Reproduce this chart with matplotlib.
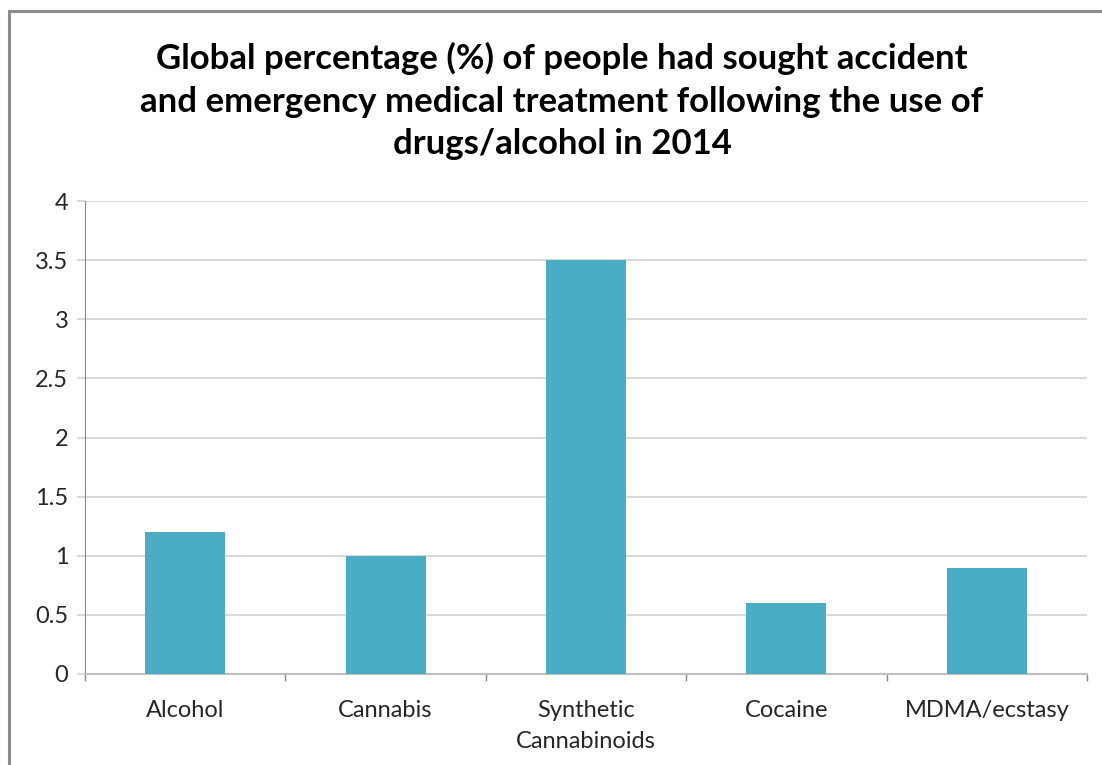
import matplotlib.pyplot as plt
from matplotlib.patches import Rectangle

categories = ['Alcohol', 'Cannabis', 'Synthetic\nCannabinoids', 'Cocaine', 'MDMA/ecstasy']
values = [1.2, 1.0, 3.5, 0.6, 0.9]
yticks = [0, 0.5, 1, 1.5, 2, 2.5, 3, 3.5, 4]
ytick_labels = ['0', '0.5', '1', '1.5', '2', '2.5', '3', '3.5', '4']
title = ('Global percentage (%) of people had sought accident\n'
         'and emergency medical treatment following the use of\n'
         'drugs/alcohol in 2014')

plt.rcParams['font.family'] = ['Lato', 'DejaVu Sans']

fig = plt.figure(figsize=(11.02, 7.65), dpi=100)
fig.patch.set_facecolor('white')

# outer chart frame (right and bottom edges fall outside the image)
fig.patches.append(Rectangle((9 / 1102, -0.05), 1.2, 1 - 11 / 765 + 0.05,
                             transform=fig.transFigure, fill=False,
                             edgecolor='#8c8c8c', linewidth=2.2))

ax = fig.add_axes([85 / 1102, 1 - 674 / 765, (1087 - 85) / 1102, (674 - 201) / 765])
x = range(len(categories))
ax.bar(x, values, width=0.4, color='#4BACC6', zorder=3)

ax.set_xlim(-0.5, len(categories) - 0.5)
ax.set_ylim(0, 4)
ax.set_yticks(yticks)
ax.set_yticklabels(ytick_labels, fontsize=17, color='#262626')
ax.set_xticks(list(x))
ax.set_xticklabels(categories, fontsize=17, color='#262626', linespacing=1.55)
ax.tick_params(axis='x', which='major', length=0, pad=19)
ax.set_xticks([i - 0.5 for i in range(len(categories) + 1)], minor=True)
ax.tick_params(axis='x', which='minor', length=5, color='#868686', width=1)
ax.tick_params(axis='y', length=6, color='#d9d9d9', width=1.5, pad=6)

ax.grid(axis='y', color='#d9d9d9', linewidth=1.5, zorder=0)
for s in ['top', 'right']:
    ax.spines[s].set_visible(False)
ax.spines['left'].set_color('#868686')
ax.spines['bottom'].set_color('#bfbfbf')
ax.spines['bottom'].set_linewidth(1.5)

fig.text(562 / 1102, 1 - 101 / 765, title, ha='center', va='center',
         fontsize=25, fontweight='bold', linespacing=1.42)

fig.savefig('out.png', dpi=100)
